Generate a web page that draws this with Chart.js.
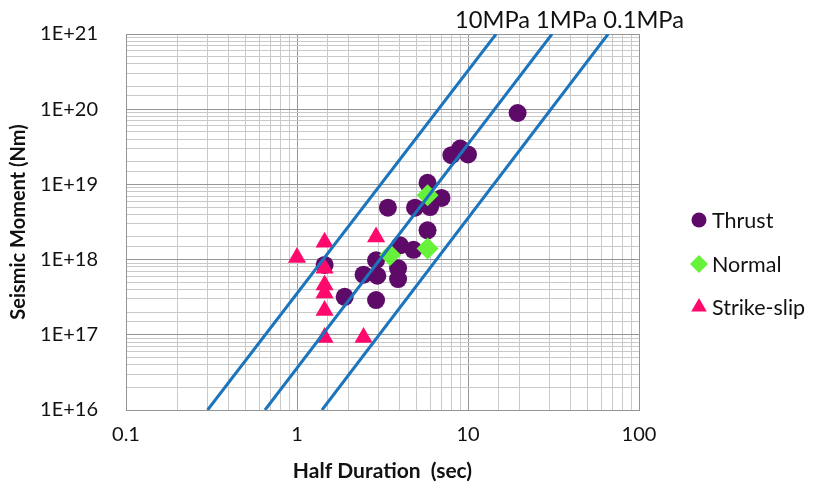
<!DOCTYPE html>
<html><head><meta charset="utf-8">
<script src="https://cdn.jsdelivr.net/npm/chart.js@4.4.0/dist/chart.umd.min.js"></script>
<style>html,body{margin:0;padding:0;background:#fff}#wrap{width:818px;height:488px}</style>
</head><body><div id="wrap"><canvas id="c" width="818" height="488"></canvas></div>
<script>
// ---- data ----
const thrustT = [19.5, 8, 9, 10, 5.8, 7, 4.9, 6, 3.4, 5.8, 4, 4.8, 2.9, 2.45, 2.95, 3.9, 3.9, 1.9, 2.9, 1.45];
const thrustM = [8.9e19, 2.45e19, 3.0e19, 2.5e19, 1.05e19, 6.6e18, 4.9e18, 5.0e18, 4.9e18, 2.45e18, 1.55e18, 1.35e18, 9.8e17, 6.3e17, 6.1e17, 7.7e17, 5.5e17, 3.2e17, 2.9e17, 8.5e17];
const normalT = [5.8, 5.8, 3.5];
const normalM = [7.2e18, 1.4e18, 1.15e18];
const strikeT = [1.0, 1.45, 1.45, 1.45, 1.45, 1.45, 1.45, 2.9, 2.45];
const strikeM = [1.07e18, 1.7e18, 7.7e17, 4.6e17, 3.6e17, 2.1e17, 9.2e16, 2.0e18, 9.2e16];
// stress-drop reference lines: endpoints (T, M)
const line10T = [0.3, 14.6];
const line1T = [0.65, 31];
const line01T = [1.4, 66];
const lineM = [1e16, 1e21];
const lineLabels = "10MPa 1MPa 0.1MPa";
const xTickLabels = {"0.1": "0.1", "1": "1", "10": "10", "100": "100"};
const seriesNames = ["Thrust", "Normal", "Strike-slip"];

const pts = (xs, ys) => xs.map((x, i) => ({x: x, y: ys[i]}));
const PURPLE = '#5e0a68', GREEN = '#66f23a', PINK = '#ff0a6c', BLUE = '#1c74bc';
const FONT = 'Lato, "Open Sans", sans-serif';

function isDecade(v) {
  const l = Math.log10(v);
  return Math.abs(l - Math.round(l)) < 1e-6;
}

const topText = {
  id: 'topText',
  afterDraw(chart) {
    const ctx = chart.ctx;
    ctx.save();
    let size = 24;
    ctx.font = size + 'px ' + FONT;
    const w = ctx.measureText(lineLabels).width;
    size = size * 229 / w;
    ctx.font = size + 'px ' + FONT;
    ctx.fillStyle = '#111';
    ctx.textBaseline = 'middle';
    ctx.textAlign = 'left';
    ctx.fillText(lineLabels, 455, 20);
    ctx.restore();
  }
};

const customLegend = {
  id: 'customLegend',
  afterDraw(chart) {
    const ctx = chart.ctx;
    const items = [
      {t: seriesNames[0], s: 'circle', c: PURPLE, r: 7.5, y: 220},
      {t: seriesNames[1], s: 'rectRot', c: GREEN, r: 9, y: 264},
      {t: seriesNames[2], s: 'triangle', c: PINK, r: 9, y: 307}
    ];
    ctx.save();
    items.forEach(it => {
      ctx.fillStyle = it.c;
      ctx.strokeStyle = it.c;
      ctx.lineWidth = 0;
      Chart.helpers.drawPoint(ctx, {pointStyle: it.s, radius: it.r, rotation: 0, borderWidth: 0}, 699, it.y);
      ctx.fillStyle = '#111';
      ctx.font = '21.5px ' + FONT;
      ctx.textBaseline = 'middle';
      ctx.textAlign = 'left';
      ctx.fillText(it.t, 712, it.y + 1);
    });
    ctx.restore();
  }
};

const gridColor = (ctx) => (ctx.tick && isDecade(ctx.tick.value)) ? '#959595' : '#c9c9c9';

new Chart(document.getElementById('c'), {
  type: 'scatter',
  data: {
    datasets: [
      {label: '10MPa', data: pts(line10T, lineM), showLine: true, borderColor: BLUE, borderWidth: 3, pointRadius: 0},
      {label: '1MPa', data: pts(line1T, lineM), showLine: true, borderColor: BLUE, borderWidth: 3, pointRadius: 0},
      {label: '0.1MPa', data: pts(line01T, lineM), showLine: true, borderColor: BLUE, borderWidth: 3, pointRadius: 0},
      {label: seriesNames[2], data: pts(strikeT, strikeM), pointStyle: 'triangle', pointRadius: 10.5, backgroundColor: PINK, borderWidth: 0},
      {label: seriesNames[1], data: pts(normalT, normalM), pointStyle: 'rectRot', pointRadius: 11, backgroundColor: GREEN, borderWidth: 0},
      {label: seriesNames[0], data: pts(thrustT, thrustM), pointStyle: 'circle', pointRadius: 9, backgroundColor: PURPLE, borderWidth: 0}
    ]
  },
  options: {
    responsive: false,
    animation: false,
    devicePixelRatio: 1,
    layout: {padding: {top: 34, right: 179, left: 0, bottom: 0}},
    plugins: {legend: {display: false}, tooltip: {enabled: false}},
    scales: {
      x: {
        type: 'logarithmic', min: 0.1, max: 100,
        afterFit: s => { s.height = 78; },
        grid: {color: gridColor, lineWidth: 1, drawTicks: false},
        border: {color: '#959595'},
        ticks: {
          autoSkip: false, maxRotation: 0, padding: 13, color: '#111',
          font: {family: FONT, size: 20},
          callback: v => isDecade(v) ? (xTickLabels[String(Math.round(v * 10) / 10)] || '') : ''
        },
        title: {display: true, text: 'Half Duration  (sec)', color: '#111', font: {family: FONT, size: 21, weight: 'bold'}, padding: {top: 8}}
      },
      y: {
        type: 'logarithmic', min: 1e16, max: 1e21,
        afterFit: s => { s.width = 126; s.paddingTop = 0; s.paddingBottom = 0; },
        grid: {color: gridColor, lineWidth: 1, drawTicks: false},
        border: {color: '#959595'},
        ticks: {
          autoSkip: false, padding: 28, color: '#111',
          font: {family: FONT, size: 20},
          callback: v => isDecade(v) ? ('1E+' + Math.round(Math.log10(v))) : ''
        },
        title: {display: true, text: 'Seismic Moment (Nm)', color: '#111', font: {family: FONT, size: 20, weight: 'bold'}, padding: {top: 7}}
      }
    }
  },
  plugins: [topText, customLegend]
});
</script></body></html>
